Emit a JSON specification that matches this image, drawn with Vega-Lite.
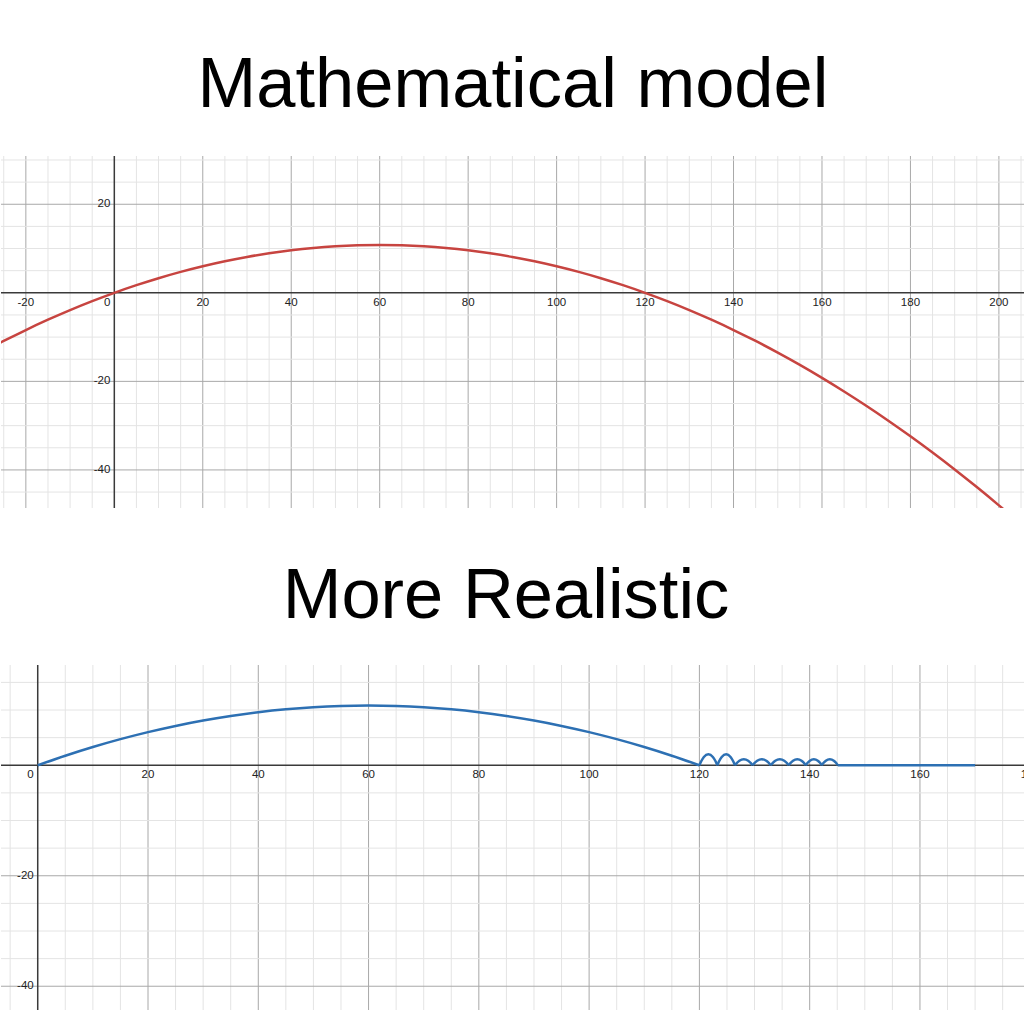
{
  "$schema": "https://vega.github.io/schema/vega-lite/v6.json",
  "padding": {"top": 50, "left": 0, "right": 0, "bottom": 0},
  "background": "white",
  "config": {
    "view": {"stroke": null},
    "concat": {"spacing": 52},
    "title": {"fontSize": 70.5, "font": "Liberation Sans", "fontWeight": "normal", "color": "#000000", "baseline": "alphabetic", "anchor": "middle"}
  },
  "datasets": {
    "model": [
      {"x": -30, "y": -13.5}, {"x": -25, "y": -10.875}, {"x": -20, "y": -8.4}, {"x": -15, "y": -6.075},
      {"x": -10, "y": -3.9}, {"x": -5, "y": -1.875}, {"x": 0, "y": 0}, {"x": 5, "y": 1.725},
      {"x": 10, "y": 3.3}, {"x": 15, "y": 4.725}, {"x": 20, "y": 6.0}, {"x": 25, "y": 7.125},
      {"x": 30, "y": 8.1}, {"x": 35, "y": 8.925}, {"x": 40, "y": 9.6}, {"x": 45, "y": 10.125},
      {"x": 50, "y": 10.5}, {"x": 55, "y": 10.725}, {"x": 60, "y": 10.8}, {"x": 65, "y": 10.725},
      {"x": 70, "y": 10.5}, {"x": 75, "y": 10.125}, {"x": 80, "y": 9.6}, {"x": 85, "y": 8.925},
      {"x": 90, "y": 8.1}, {"x": 95, "y": 7.125}, {"x": 100, "y": 6.0}, {"x": 105, "y": 4.725},
      {"x": 110, "y": 3.3}, {"x": 115, "y": 1.725}, {"x": 120, "y": 0}, {"x": 125, "y": -1.875},
      {"x": 130, "y": -3.9}, {"x": 135, "y": -6.075}, {"x": 140, "y": -8.4}, {"x": 145, "y": -10.875},
      {"x": 150, "y": -13.5}, {"x": 155, "y": -16.275}, {"x": 160, "y": -19.2}, {"x": 165, "y": -22.275},
      {"x": 170, "y": -25.5}, {"x": 175, "y": -28.875}, {"x": 180, "y": -32.4}, {"x": 185, "y": -36.075},
      {"x": 190, "y": -39.9}, {"x": 195, "y": -43.875}, {"x": 200, "y": -48.0}, {"x": 205, "y": -52.275},
      {"x": 210, "y": -56.7}
    ],
    "realistic": [
      {"seg": "a0", "x": 0, "y": 0}, {"seg": "a0", "x": 5, "y": 1.725}, {"seg": "a0", "x": 10, "y": 3.3},
      {"seg": "a0", "x": 15, "y": 4.725}, {"seg": "a0", "x": 20, "y": 6.0}, {"seg": "a0", "x": 25, "y": 7.125},
      {"seg": "a0", "x": 30, "y": 8.1}, {"seg": "a0", "x": 35, "y": 8.925}, {"seg": "a0", "x": 40, "y": 9.6},
      {"seg": "a0", "x": 45, "y": 10.125}, {"seg": "a0", "x": 50, "y": 10.5}, {"seg": "a0", "x": 55, "y": 10.725},
      {"seg": "a0", "x": 60, "y": 10.8}, {"seg": "a0", "x": 65, "y": 10.725}, {"seg": "a0", "x": 70, "y": 10.5},
      {"seg": "a0", "x": 75, "y": 10.125}, {"seg": "a0", "x": 80, "y": 9.6}, {"seg": "a0", "x": 85, "y": 8.925},
      {"seg": "a0", "x": 90, "y": 8.1}, {"seg": "a0", "x": 95, "y": 7.125}, {"seg": "a0", "x": 100, "y": 6.0},
      {"seg": "a0", "x": 105, "y": 4.725}, {"seg": "a0", "x": 110, "y": 3.3}, {"seg": "a0", "x": 115, "y": 1.725},
      {"seg": "a0", "x": 120, "y": 0},
      {"seg": "a1", "x": 120, "y": 0}, {"seg": "a1", "x": 120.33, "y": 0.72}, {"seg": "a1", "x": 120.81, "y": 1.5},
      {"seg": "a1", "x": 121.63, "y": 2.0}, {"seg": "a1", "x": 122.44, "y": 1.5}, {"seg": "a1", "x": 122.93, "y": 0.72},
      {"seg": "a1", "x": 123.25, "y": 0},
      {"seg": "a2", "x": 123.25, "y": 0}, {"seg": "a2", "x": 123.57, "y": 0.72}, {"seg": "a2", "x": 124.05, "y": 1.5},
      {"seg": "a2", "x": 124.85, "y": 2.0}, {"seg": "a2", "x": 125.65, "y": 1.5}, {"seg": "a2", "x": 126.13, "y": 0.72},
      {"seg": "a2", "x": 126.45, "y": 0},
      {"seg": "a3", "x": 126.45, "y": 0}, {"seg": "a3", "x": 126.77, "y": 0.4}, {"seg": "a3", "x": 127.25, "y": 0.83},
      {"seg": "a3", "x": 128.05, "y": 1.1}, {"seg": "a3", "x": 128.85, "y": 0.83}, {"seg": "a3", "x": 129.33, "y": 0.4},
      {"seg": "a3", "x": 129.65, "y": 0},
      {"seg": "a4", "x": 129.65, "y": 0}, {"seg": "a4", "x": 129.98, "y": 0.4}, {"seg": "a4", "x": 130.48, "y": 0.83},
      {"seg": "a4", "x": 131.3, "y": 1.1}, {"seg": "a4", "x": 132.13, "y": 0.83}, {"seg": "a4", "x": 132.62, "y": 0.4},
      {"seg": "a4", "x": 132.95, "y": 0},
      {"seg": "a5", "x": 132.95, "y": 0}, {"seg": "a5", "x": 133.28, "y": 0.4}, {"seg": "a5", "x": 133.76, "y": 0.83},
      {"seg": "a5", "x": 134.58, "y": 1.1}, {"seg": "a5", "x": 135.39, "y": 0.83}, {"seg": "a5", "x": 135.88, "y": 0.4},
      {"seg": "a5", "x": 136.2, "y": 0},
      {"seg": "a6", "x": 136.2, "y": 0}, {"seg": "a6", "x": 136.51, "y": 0.4}, {"seg": "a6", "x": 136.98, "y": 0.83},
      {"seg": "a6", "x": 137.75, "y": 1.1}, {"seg": "a6", "x": 138.53, "y": 0.83}, {"seg": "a6", "x": 138.99, "y": 0.4},
      {"seg": "a6", "x": 139.3, "y": 0},
      {"seg": "a7", "x": 139.3, "y": 0}, {"seg": "a7", "x": 139.59, "y": 0.4}, {"seg": "a7", "x": 140.03, "y": 0.83},
      {"seg": "a7", "x": 140.75, "y": 1.1}, {"seg": "a7", "x": 141.48, "y": 0.83}, {"seg": "a7", "x": 141.91, "y": 0.4},
      {"seg": "a7", "x": 142.2, "y": 0},
      {"seg": "a8", "x": 142.2, "y": 0}, {"seg": "a8", "x": 142.49, "y": 0.4}, {"seg": "a8", "x": 142.93, "y": 0.83},
      {"seg": "a8", "x": 143.65, "y": 1.1}, {"seg": "a8", "x": 144.38, "y": 0.83}, {"seg": "a8", "x": 144.81, "y": 0.4},
      {"seg": "a8", "x": 145.1, "y": 0},
      {"seg": "a9", "x": 145.1, "y": 0}, {"seg": "a9", "x": 170.0, "y": 0}
    ],
    "gx1": [{"v":-25},{"v":-20},{"v":-15},{"v":-10},{"v":-5},{"v":5},{"v":10},{"v":15},{"v":20},{"v":25},{"v":30},{"v":35},{"v":40},{"v":45},{"v":50},{"v":55},{"v":60},{"v":65},{"v":70},{"v":75},{"v":80},{"v":85},{"v":90},{"v":95},{"v":100},{"v":105},{"v":110},{"v":115},{"v":120},{"v":125},{"v":130},{"v":135},{"v":140},{"v":145},{"v":150},{"v":155},{"v":160},{"v":165},{"v":170},{"v":175},{"v":180},{"v":185},{"v":190},{"v":195},{"v":200},{"v":205}],
    "gy1": [{"v":-45},{"v":-40},{"v":-35},{"v":-30},{"v":-25},{"v":-20},{"v":-15},{"v":-10},{"v":-5},{"v":5},{"v":10},{"v":15},{"v":20},{"v":25},{"v":30}],
    "gx2": [{"v":-5},{"v":5},{"v":10},{"v":15},{"v":20},{"v":25},{"v":30},{"v":35},{"v":40},{"v":45},{"v":50},{"v":55},{"v":60},{"v":65},{"v":70},{"v":75},{"v":80},{"v":85},{"v":90},{"v":95},{"v":100},{"v":105},{"v":110},{"v":115},{"v":120},{"v":125},{"v":130},{"v":135},{"v":140},{"v":145},{"v":150},{"v":155},{"v":160},{"v":165},{"v":170},{"v":175}],
    "gy2": [{"v":-40},{"v":-35},{"v":-30},{"v":-25},{"v":-20},{"v":-15},{"v":-10},{"v":-5},{"v":5},{"v":10},{"v":15}],
    "xlab1": [{"v": -20}, {"v": 20}, {"v": 40}, {"v": 60}, {"v": 80}, {"v": 100}, {"v": 120}, {"v": 140}, {"v": 160}, {"v": 180}, {"v": 200}],
    "ylab1": [{"v": 20}, {"v": -20}, {"v": -40}],
    "xlab2": [{"v": 20}, {"v": 40}, {"v": 60}, {"v": 80}, {"v": 100}, {"v": 120}, {"v": 140}, {"v": 160}, {"v": 180}],
    "ylab2": [{"v": -20}, {"v": -40}],
    "origin": [{"v": 0}]
  },
  "vconcat": [
    {
      "title": {"text": "Mathematical model", "offset": 34},
      "width": 1024,
      "height": 352,
      "layer": [
        {
          "data": {"name": "gx1"},
          "mark": {"type": "rule", "strokeWidth": 1},
          "encoding": {
            "x": {"field": "v", "type": "quantitative", "scale": {"domain": [-25.62, 205.9], "nice": false, "zero": false}, "axis": null},
            "color": {"condition": {"test": "datum.v % 20 === 0", "value": "#a8a8a8"}, "value": "#e4e4e4"}
          }
        },
        {
          "data": {"name": "gy1"},
          "mark": {"type": "rule", "strokeWidth": 1},
          "encoding": {
            "y": {"field": "v", "type": "quantitative", "scale": {"domain": [-48.6, 30.9], "nice": false, "zero": false}, "axis": null},
            "color": {"condition": {"test": "datum.v % 20 === 0", "value": "#a8a8a8"}, "value": "#e4e4e4"}
          }
        },
        {
          "data": {"name": "origin"},
          "mark": {"type": "rule", "color": "#3a3a3a", "strokeWidth": 1.5},
          "encoding": {"y": {"field": "v", "type": "quantitative", "scale": {"domain": [-48.6, 30.9], "nice": false, "zero": false}, "axis": null}}
        },
        {
          "data": {"name": "origin"},
          "mark": {"type": "rule", "color": "#3a3a3a", "strokeWidth": 1.5},
          "encoding": {"x": {"field": "v", "type": "quantitative", "scale": {"domain": [-25.62, 205.9], "nice": false, "zero": false}, "axis": null}}
        },
        {
          "data": {"name": "model"},
          "mark": {"type": "line", "clip": true, "color": "#c74440", "strokeWidth": 2.5, "interpolate": "monotone"},
          "encoding": {
            "x": {"field": "x", "type": "quantitative", "scale": {"domain": [-25.62, 205.9], "nice": false, "zero": false}, "axis": null},
            "y": {"field": "y", "type": "quantitative", "scale": {"domain": [-48.6, 30.9], "nice": false, "zero": false}, "axis": null}
          }
        },
        {
          "data": {"name": "xlab1"},
          "mark": {"type": "text", "font": "Liberation Sans", "fontSize": 11.5, "color": "#222222", "baseline": "top", "align": "center", "dy": 4, "clip": true},
          "encoding": {
            "x": {"field": "v", "type": "quantitative", "scale": {"domain": [-25.62, 205.9], "nice": false, "zero": false}, "axis": null},
            "y": {"datum": 0, "type": "quantitative", "scale": {"domain": [-48.6, 30.9], "nice": false, "zero": false}, "axis": null},
            "text": {"field": "v", "type": "nominal"}
          }
        },
        {
          "data": {"name": "ylab1"},
          "mark": {"type": "text", "font": "Liberation Sans", "fontSize": 11.5, "color": "#222222", "baseline": "middle", "align": "right", "dx": -4, "clip": true},
          "encoding": {
            "x": {"datum": 0, "type": "quantitative", "scale": {"domain": [-25.62, 205.9], "nice": false, "zero": false}, "axis": null},
            "y": {"field": "v", "type": "quantitative", "scale": {"domain": [-48.6, 30.9], "nice": false, "zero": false}, "axis": null},
            "text": {"field": "v", "type": "nominal"}
          }
        },
        {
          "data": {"name": "origin"},
          "mark": {"type": "text", "font": "Liberation Sans", "fontSize": 11.5, "color": "#222222", "baseline": "top", "align": "right", "dx": -4, "dy": 4},
          "encoding": {
            "x": {"field": "v", "type": "quantitative", "scale": {"domain": [-25.62, 205.9], "nice": false, "zero": false}, "axis": null},
            "y": {"field": "v", "type": "quantitative", "scale": {"domain": [-48.6, 30.9], "nice": false, "zero": false}, "axis": null},
            "text": {"field": "v", "type": "nominal"}
          }
        }
      ]
    },
    {
      "title": {"text": "More Realistic", "offset": 32, "dx": -7},
      "width": 1024,
      "height": 345,
      "layer": [
        {
          "data": {"name": "gx2"},
          "mark": {"type": "rule", "strokeWidth": 1},
          "encoding": {
            "x": {"field": "v", "type": "quantitative", "scale": {"domain": [-6.66, 179.05], "nice": false, "zero": false}, "axis": null},
            "color": {"condition": {"test": "datum.v % 20 === 0", "value": "#a8a8a8"}, "value": "#e4e4e4"}
          }
        },
        {
          "data": {"name": "gy2"},
          "mark": {"type": "rule", "strokeWidth": 1},
          "encoding": {
            "y": {"field": "v", "type": "quantitative", "scale": {"domain": [-44.3, 18.15], "nice": false, "zero": false}, "axis": null},
            "color": {"condition": {"test": "datum.v % 20 === 0", "value": "#a8a8a8"}, "value": "#e4e4e4"}
          }
        },
        {
          "data": {"name": "origin"},
          "mark": {"type": "rule", "color": "#3a3a3a", "strokeWidth": 1.5},
          "encoding": {"y": {"field": "v", "type": "quantitative", "scale": {"domain": [-44.3, 18.15], "nice": false, "zero": false}, "axis": null}}
        },
        {
          "data": {"name": "origin"},
          "mark": {"type": "rule", "color": "#3a3a3a", "strokeWidth": 1.5},
          "encoding": {"x": {"field": "v", "type": "quantitative", "scale": {"domain": [-6.66, 179.05], "nice": false, "zero": false}, "axis": null}}
        },
        {
          "data": {"name": "realistic"},
          "mark": {"type": "line", "clip": true, "color": "#2d70b3", "strokeWidth": 2.5, "interpolate": "monotone"},
          "encoding": {
            "x": {"field": "x", "type": "quantitative", "scale": {"domain": [-6.66, 179.05], "nice": false, "zero": false}, "axis": null},
            "y": {"field": "y", "type": "quantitative", "scale": {"domain": [-44.3, 18.15], "nice": false, "zero": false}, "axis": null},
            "detail": {"field": "seg", "type": "nominal"}
          }
        },
        {
          "data": {"name": "xlab2"},
          "mark": {"type": "text", "font": "Liberation Sans", "fontSize": 11.5, "color": "#222222", "baseline": "top", "align": "center", "dy": 4, "clip": true},
          "encoding": {
            "x": {"field": "v", "type": "quantitative", "scale": {"domain": [-6.66, 179.05], "nice": false, "zero": false}, "axis": null},
            "y": {"datum": 0, "type": "quantitative", "scale": {"domain": [-44.3, 18.15], "nice": false, "zero": false}, "axis": null},
            "text": {"field": "v", "type": "nominal"}
          }
        },
        {
          "data": {"name": "ylab2"},
          "mark": {"type": "text", "font": "Liberation Sans", "fontSize": 11.5, "color": "#222222", "baseline": "middle", "align": "right", "dx": -4, "clip": true},
          "encoding": {
            "x": {"datum": 0, "type": "quantitative", "scale": {"domain": [-6.66, 179.05], "nice": false, "zero": false}, "axis": null},
            "y": {"field": "v", "type": "quantitative", "scale": {"domain": [-44.3, 18.15], "nice": false, "zero": false}, "axis": null},
            "text": {"field": "v", "type": "nominal"}
          }
        },
        {
          "data": {"name": "origin"},
          "mark": {"type": "text", "font": "Liberation Sans", "fontSize": 11.5, "color": "#222222", "baseline": "top", "align": "right", "dx": -4, "dy": 4},
          "encoding": {
            "x": {"field": "v", "type": "quantitative", "scale": {"domain": [-6.66, 179.05], "nice": false, "zero": false}, "axis": null},
            "y": {"field": "v", "type": "quantitative", "scale": {"domain": [-44.3, 18.15], "nice": false, "zero": false}, "axis": null},
            "text": {"field": "v", "type": "nominal"}
          }
        }
      ]
    }
  ]
}
